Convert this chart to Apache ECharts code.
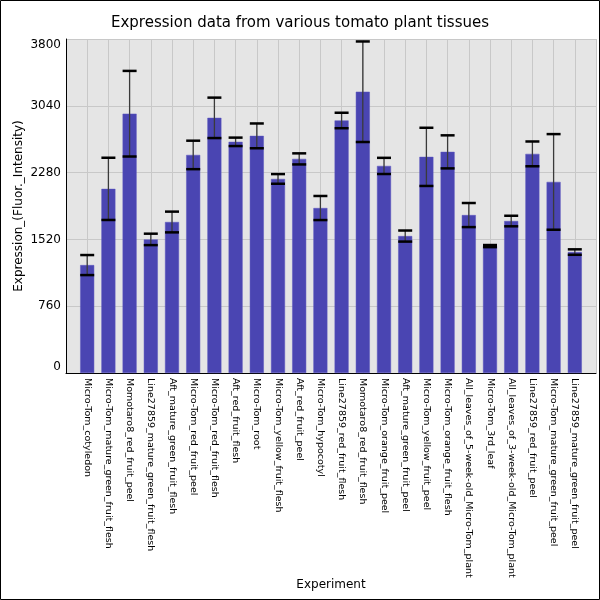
<!DOCTYPE html>
<html>
<head>
<meta charset="utf-8">
<title>Expression data from various tomato plant tissues</title>
<script src="https://cdn.jsdelivr.net/npm/echarts@6/dist/echarts.min.js"></script>
<style>
  html, body { margin: 0; padding: 0; background: #fff; }
  #chart { width: 600px; height: 600px; }
</style>
</head>
<body>
<div id="chart"></div>
<script>
const experiments = [
  "Micro-Tom_cotyledon",
  "Micro-Tom_mature_green_fruit_flesh",
  "Momotaro8_red_fruit_peel",
  "Line27859_mature_green_fruit_flesh",
  "Aft_mature_green_fruit_flesh",
  "Micro-Tom_red_fruit_peel",
  "Micro-Tom_red_fruit_flesh",
  "Aft_red_fruit_flesh",
  "Micro-Tom_root",
  "Micro-Tom_yellow_fruit_flesh",
  "Aft_red_fruit_peel",
  "Micro-Tom_hypocotyl",
  "Line27859_red_fruit_flesh",
  "Momotaro8_red_fruit_flesh",
  "Micro-Tom_orange_fruit_peel",
  "Aft_mature_green_fruit_peel",
  "Micro-Tom_yellow_fruit_peel",
  "Micro-Tom_orange_fruit_flesh",
  "All_leaves_of_5-week-old_Micro-Tom_plant",
  "Micro-Tom_3rd_leaf",
  "All_leaves_of_3-week-old_Micro-Tom_plant",
  "Line27859_red_fruit_peel",
  "Micro-Tom_mature_green_fruit_peel",
  "Line27859_mature_green_fruit_peel",
];

const expression = [
  1228, 2095, 2950, 1520, 1718, 2481, 2903, 2630, 2698, 2208, 2436, 1877,
  2873, 3200, 2356, 1558, 2459, 2516, 1797, 1444, 1729, 2493, 2174, 1376,
];

const errors = [
  114, 354, 487, 65, 118, 162, 230, 48, 141, 55, 63, 137,
  88, 572, 92, 63, 331, 188, 137, 12, 60, 141, 544, 31,
];

const yTicks = [0, 760, 1520, 2280, 3040, 3800];

const barColor = "#4a45b2";
const font = "DejaVu Sans";

const chart = echarts.init(document.getElementById("chart"), null, { renderer: "canvas" });

chart.setOption({
  animation: false,
  backgroundColor: "#ffffff",
  textStyle: { fontFamily: font },
  title: {
    text: "Expression data from various tomato plant tissues",
    left: "center",
    top: 11,
    textStyle: { fontFamily: font, fontSize: 15, fontWeight: "normal", color: "#000" },
  },
  graphic: [{
    type: "rect",
    shape: { x: 0.5, y: 0.5, width: 599, height: 599 },
    style: { fill: "none", stroke: "#000", lineWidth: 1 },
    silent: true,
    z: 100,
  }],
  grid: {
    left: 66, right: 4, top: 39, bottom: 227,
    outerBoundsMode: "none",
    show: true, backgroundColor: "#e5e5e5", borderWidth: 0,
  },
  xAxis: {
    type: "value",
    min: -1,
    max: experiments.length,
    interval: 1,
    name: "Experiment",
    nameLocation: "middle",
    nameGap: 206,
    nameMoveOverlap: false,
    nameTextStyle: { fontFamily: font, fontSize: 12, color: "#000" },
    axisLine: { show: true, onZero: false, lineStyle: { color: "#000", width: 1 } },
    axisTick: { show: false },
    axisLabel: {
      rotate: -90,
      fontFamily: font,
      fontSize: 9.5,
      color: "#000",
      margin: 5,
      formatter: (v) => experiments[v] || "",
    },
    splitLine: { show: true, lineStyle: { color: "#c8c8c8", width: 1 } },
  },
  yAxis: {
    type: "value",
    min: 0,
    max: yTicks[yTicks.length - 1],
    interval: yTicks[1] - yTicks[0],
    name: "Expression_(Fluor._Intensity)",
    nameLocation: "middle",
    nameGap: 41,
    nameMoveOverlap: false,
    nameTextStyle: { fontFamily: font, fontSize: 12, color: "#000" },
    axisLine: { show: true, onZero: false, lineStyle: { color: "#000", width: 1 } },
    axisTick: { show: false },
    axisLabel: {
      fontFamily: font,
      fontSize: 12,
      color: "#000",
      margin: 5,
      formatter: (v) => String(v),
      verticalAlignMinLabel: "bottom",
      verticalAlignMaxLabel: "top",
    },
    splitLine: { show: true, lineStyle: { color: "#c8c8c8", width: 1 } },
  },
  series: [
    {
      name: "Expression",
      type: "bar",
      barWidth: 14,
      data: expression.map((v, i) => [i, v]),
      itemStyle: { color: barColor, borderColor: "#5a55be", borderWidth: 0.5 },
      z: 2,
    },
    {
      name: "Error",
      type: "custom",
      data: expression.map((v, i) => [i, v - errors[i], v + errors[i]]),
      renderItem: (params, api) => {
        const x = api.value(0);
        const low = api.coord([x, api.value(1)]);
        const high = api.coord([x, api.value(2)]);
        const half = 7;
        return {
          type: "group",
          children: [
            {
              type: "line",
              shape: { x1: high[0], y1: high[1], x2: low[0], y2: low[1] },
              style: { stroke: "#3a3a3a", lineWidth: 1.3 },
            },
            {
              type: "line",
              shape: { x1: high[0] - half, y1: high[1], x2: high[0] + half, y2: high[1] },
              style: { stroke: "#000", lineWidth: 2.5 },
            },
            {
              type: "line",
              shape: { x1: low[0] - half, y1: low[1], x2: low[0] + half, y2: low[1] },
              style: { stroke: "#000", lineWidth: 2.5 },
            },
          ],
        };
      },
      z: 3,
    },
  ],
});
</script>
</body>
</html>
